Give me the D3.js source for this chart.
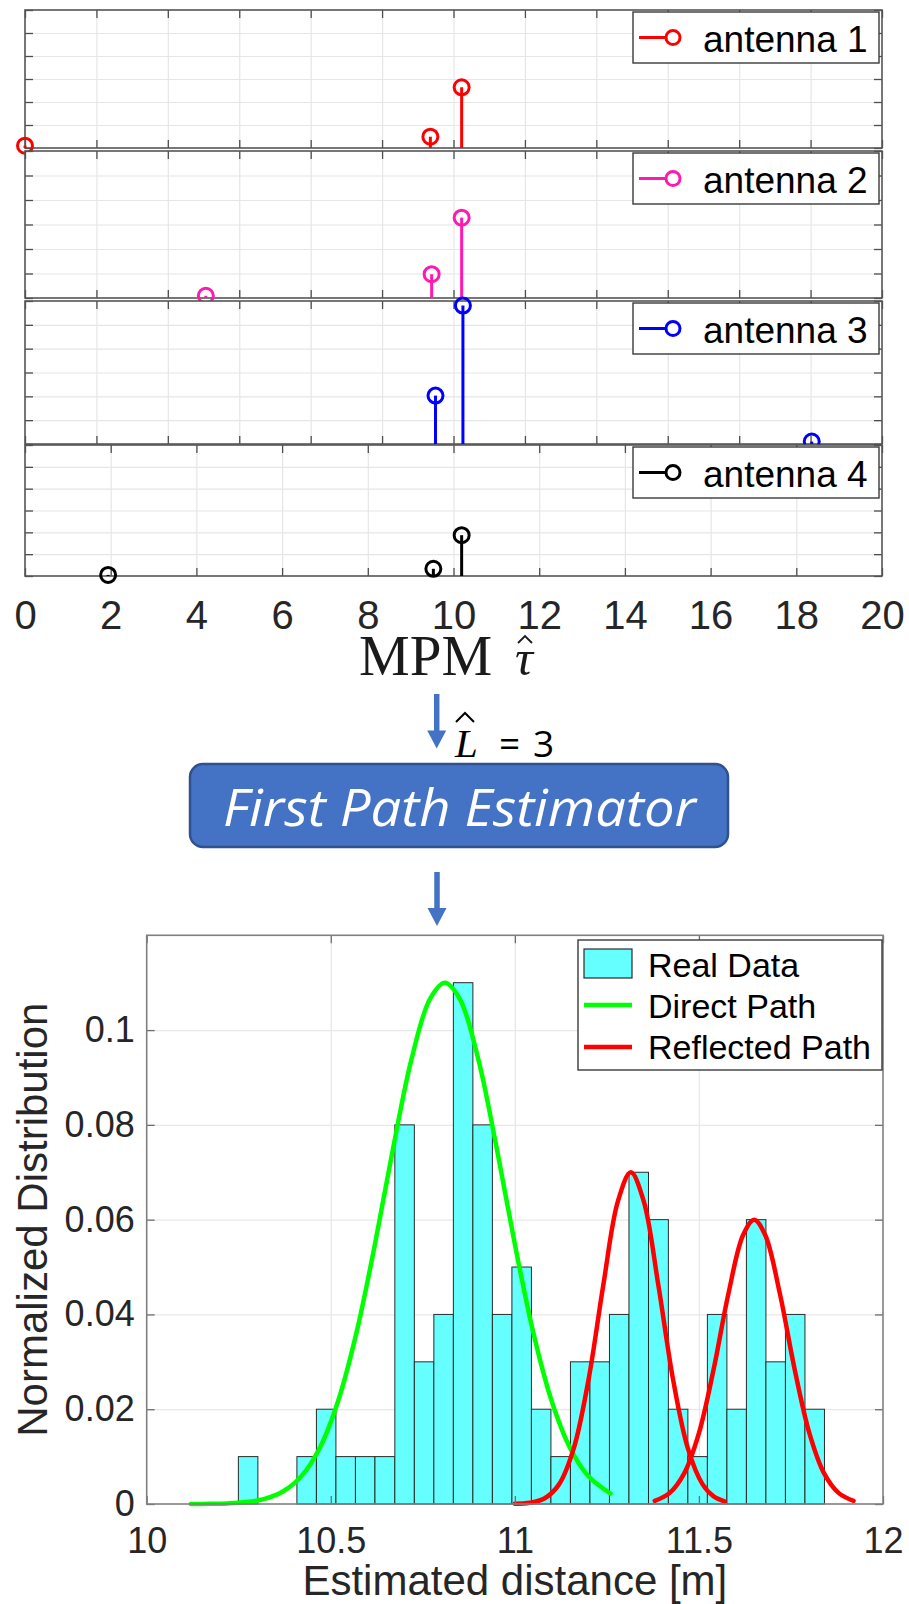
<!DOCTYPE html>
<html>
<head>
<meta charset="utf-8">
<script src="https://cdn.jsdelivr.net/npm/d3@7"></script>
<style>
  body { margin: 0; background: #fff; }
  svg { display: block; }
</style>
</head>
<body>
<script>
// ---------- MPM delay estimates, one stem panel per antenna ----------
const antennaLabels = ["antenna 1", "antenna 2", "antenna 3", "antenna 4"];
const tauAnt1 = [0.0, 9.46, 10.19];
const ampAnt1 = [0.10, 0.49, 2.64];
const tauAnt2 = [4.22, 9.49, 10.19];
const ampAnt2 = [0.09, 0.97, 3.28];
const tauAnt3 = [9.58, 10.22, 18.36];
const ampAnt3 = [2.03, 5.81, 0.10];
const tauAnt4 = [1.94, 9.53, 10.19];
const ampAnt4 = [0.05, 0.33, 1.87];

const tauTicks = [0, 2, 4, 6, 8, 10, 12, 14, 16, 18, 20];
const tauTickLabels = ["0", "2", "4", "6", "8", "10", "12", "14", "16", "18", "20"];
const tauGridUpper = [0, 1.667, 3.333, 5, 6.667, 8.333, 10, 11.667, 13.333, 15, 16.667, 18.333, 20];
const ampGrid = [0, 1, 2, 3, 4, 5, 6];

// ---------- first path estimator output: histogram and fitted paths ----------
const binEdges = [10.249, 10.302, 10.355, 10.408, 10.461, 10.514, 10.567, 10.620, 10.674, 10.727,
                  10.780, 10.833, 10.886, 10.939, 10.992, 11.045, 11.098, 11.151, 11.204, 11.257,
                  11.310, 11.363, 11.417, 11.470, 11.523, 11.576, 11.629, 11.682, 11.735, 11.788, 11.841];
const binHeights = [0.01, 0, 0, 0.01, 0.02, 0.01, 0.01, 0.01, 0.08, 0.03,
                    0.04, 0.11, 0.08, 0.04, 0.05, 0.02, 0.01, 0.03, 0.03, 0.04,
                    0.07, 0.06, 0.02, 0.01, 0.04, 0.02, 0.06, 0.03, 0.04, 0.02];

const directX = [10.12, 10.17, 10.22, 10.27, 10.32, 10.37, 10.42, 10.47, 10.52, 10.57, 10.62, 10.67,
                 10.72, 10.77, 10.81, 10.85, 10.90, 10.95, 11.00, 11.05, 11.10, 11.15, 11.20, 11.26];
const directY = [0.0000, 0.00004, 0.00013, 0.0004, 0.00107, 0.00263, 0.00585, 0.01183, 0.02173, 0.03621, 0.05482, 0.07537,
                 0.09409, 0.10666, 0.110, 0.10666, 0.09409, 0.07537, 0.05482, 0.03621, 0.02173, 0.01183, 0.00585, 0.00221];

const reflect1X = [11.00, 11.04, 11.08, 11.12, 11.16, 11.20, 11.24, 11.28, 11.315, 11.35, 11.39, 11.43, 11.47, 11.51, 11.54, 11.57];
const reflect1Y = [0.00004, 0.00025, 0.00115, 0.00414, 0.01173, 0.02618, 0.04607, 0.0639, 0.070, 0.0639, 0.04607, 0.02618, 0.01173, 0.00414, 0.00162, 0.00056];

const reflect2X = [11.38, 11.42, 11.46, 11.50, 11.54, 11.58, 11.62, 11.65, 11.68, 11.72, 11.76, 11.80, 11.84, 11.88, 11.92];
const reflect2Y = [0.00067, 0.00229, 0.00646, 0.01496, 0.02843, 0.04434, 0.05675, 0.060, 0.05675, 0.04434, 0.02843, 0.01496, 0.00646, 0.00229, 0.00067];

const distTicks = [10, 10.5, 11, 11.5, 12];
const distTickLabels = ["10", "10.5", "11", "11.5", "12"];
const probTicks = [0, 0.02, 0.04, 0.06, 0.08, 0.1];
const probTickLabels = ["0", "0.02", "0.04", "0.06", "0.08", "0.1"];
const legendLabels = ["Real Data", "Direct Path", "Reflected Path"];

// ---------- drawing ----------
const SANS = "'Liberation Sans', Arial, Helvetica, sans-serif";
const BLUE_BOX = "#4472c4";

const svg = d3.select("body").append("svg")
  .attr("width", 909).attr("height", 1604)
  .style("font-family", SANS);

svg.append("rect").attr("width", 909).attr("height", 1604).attr("fill", "#fff");

const stemColors = ["#ff0000", "#ff19b0", "#0000ff", "#000000"];
const stemTaus = [tauAnt1, tauAnt2, tauAnt3, tauAnt4];
const stemAmps = [ampAnt1, ampAnt2, ampAnt3, ampAnt4];
const panelBox = [[10, 148], [151, 298], [301, 444], [445, 576]];

const xTau = d3.scaleLinear().domain([0, 20]).range([25, 882]);

function styleGrid(sel) {
  sel.select(".domain").remove();
  sel.selectAll(".tick line").attr("stroke", "#e6e6e6").attr("stroke-width", 1.2);
}
function styleTicks(sel, color) {
  sel.select(".domain").remove();
  sel.selectAll(".tick line").attr("stroke", color).attr("stroke-width", 1.3);
}

panelBox.forEach(([top, bottom], p) => {
  const g = svg.append("g");
  const yAmp = d3.scaleLinear().domain([0, 6]).range([bottom, top]);
  const gridX = p < 3 ? tauGridUpper : tauTicks;
  const h = bottom - top;

  g.append("rect").attr("x", 25).attr("y", top).attr("width", 857).attr("height", h).attr("fill", "#fff");

  // grid
  g.append("g").attr("transform", `translate(0,${bottom})`)
    .call(d3.axisBottom(xTau).tickValues(gridX.slice(1, -1)).tickSize(-h).tickFormat(""))
    .call(styleGrid);
  g.append("g").attr("transform", `translate(25,0)`)
    .call(d3.axisLeft(yAmp).tickValues(ampGrid.slice(1, -1)).tickSize(-857).tickFormat(""))
    .call(styleGrid);

  // inward ticks on all four sides
  const tc = "#4d4d4d";
  g.append("g").attr("transform", `translate(0,${bottom})`)
    .call(d3.axisBottom(xTau).tickValues(gridX).tickSize(-8).tickFormat("")).call(styleTicks, tc);
  g.append("g").attr("transform", `translate(0,${top})`)
    .call(d3.axisTop(xTau).tickValues(gridX).tickSize(-8).tickFormat("")).call(styleTicks, tc);
  g.append("g").attr("transform", `translate(25,0)`)
    .call(d3.axisLeft(yAmp).tickValues(ampGrid).tickSize(-8).tickFormat("")).call(styleTicks, tc);
  g.append("g").attr("transform", `translate(882,0)`)
    .call(d3.axisRight(yAmp).tickValues(ampGrid).tickSize(-8).tickFormat("")).call(styleTicks, tc);

  g.append("rect").attr("x", 25).attr("y", top).attr("width", 857).attr("height", h)
    .attr("fill", "none").attr("stroke", "#555").attr("stroke-width", 1.6);

  // stems
  const col = stemColors[p];
  const pts = stemTaus[p].map((t, i) => ({ t, a: stemAmps[p][i] }));
  g.selectAll(".stem").data(pts).join("line")
    .attr("x1", d => xTau(d.t)).attr("x2", d => xTau(d.t))
    .attr("y1", yAmp(0)).attr("y2", d => yAmp(d.a))
    .attr("stroke", col).attr("stroke-width", 3);
  g.selectAll(".mark").data(pts).join("circle")
    .attr("cx", d => xTau(d.t)).attr("cy", d => yAmp(d.a)).attr("r", 7.5)
    .attr("fill", "none").attr("stroke", col).attr("stroke-width", 3);

  // legend
  const lg = g.append("g").attr("transform", `translate(633,${top + 2})`);
  lg.append("rect").attr("width", 246).attr("height", 51)
    .attr("fill", "#fff").attr("stroke", "#3a3a3a").attr("stroke-width", 1.4);
  lg.append("line").attr("x1", 6).attr("x2", 48).attr("y1", 25.5).attr("y2", 25.5)
    .attr("stroke", col).attr("stroke-width", 3);
  lg.append("circle").attr("cx", 40).attr("cy", 25.5).attr("r", 7)
    .attr("fill", "#fff").attr("stroke", col).attr("stroke-width", 3);
  lg.append("text").attr("x", 70).attr("y", 40).attr("font-size", 37).attr("fill", "#000")
    .text(antennaLabels[p]);

  if (p === 3) {
    g.append("g").attr("transform", `translate(0,${bottom})`)
      .call(d3.axisBottom(xTau).tickValues(tauTicks).tickSize(0).tickPadding(25)
        .tickFormat((d, i) => tauTickLabels[i]))
      .call(sel => {
        sel.select(".domain").remove();
        sel.selectAll(".tick line").remove();
        sel.selectAll("text").attr("font-size", 40).attr("fill", "#262626")
          .attr("font-family", SANS);
      });
  }
});

// x label of the stem panels: MPM tau-hat
svg.append("text").attr("x", 359).attr("y", 675)
  .attr("font-family", "'Liberation Serif', 'Times New Roman', serif")
  .attr("font-size", 57).attr("fill", "#1a1a1a").text("MPM");
svg.append("text").attr("x", 515).attr("y", 675)
  .attr("font-family", "'Liberation Serif', 'Times New Roman', serif")
  .attr("font-style", "italic")
  .attr("font-size", 50).attr("fill", "#1a1a1a").text("τ");
svg.append("path").attr("d", "M518,643 L525,636 L532,643")
  .attr("fill", "none").attr("stroke", "#1a1a1a").attr("stroke-width", 1.8);

// flow arrows
function downArrow(x, y0, y1) {
  const headH = 18, headW = 19, shaft = 5.5;
  svg.append("rect").attr("x", x - shaft / 2).attr("y", y0).attr("width", shaft)
    .attr("height", y1 - headH - y0 + 1).attr("fill", BLUE_BOX);
  svg.append("path")
    .attr("d", `M${x - headW / 2},${y1 - headH} L${x + headW / 2},${y1 - headH} L${x},${y1} Z`)
    .attr("fill", BLUE_BOX);
}
downArrow(436.7, 694, 748.5);
downArrow(437, 872, 926);

// L-hat = 3
svg.append("text").attr("x", 455).attr("y", 757)
  .attr("font-family", "'Liberation Serif', 'Times New Roman', serif")
  .attr("font-style", "italic").attr("font-size", 41).attr("fill", "#000").text("L");
svg.append("path").attr("d", "M456,722 L465,713 L474,722")
  .attr("fill", "none").attr("stroke", "#000").attr("stroke-width", 2);
svg.append("text").attr("x", 499).attr("y", 757)
  .attr("font-family", "'Open Sans', sans-serif").attr("font-size", 37).attr("fill", "#000").text("=");
svg.append("text").attr("x", 533).attr("y", 757)
  .attr("font-family", "'Open Sans', sans-serif").attr("font-size", 37).attr("fill", "#000").text("3");

// estimator block
svg.append("rect").attr("x", 190).attr("y", 764).attr("width", 538).attr("height", 83)
  .attr("rx", 13).attr("fill", BLUE_BOX).attr("stroke", "#2f528f").attr("stroke-width", 2.5);
svg.append("text").attr("x", 223).attr("y", 826)
  .attr("font-family", "'Open Sans', sans-serif").attr("font-style", "italic")
  .attr("font-size", 52).attr("fill", "#fff")
  .attr("textLength", 473).attr("lengthAdjust", "spacingAndGlyphs")
  .text("First Path Estimator");

// ---------- histogram chart ----------
const L = 146.7, R = 883, T = 935.3, B = 1504;
const xD = d3.scaleLinear().domain([10, 12]).range([L, R]);
const yP = d3.scaleLinear().domain([0, 0.12]).range([B, T]);
const hg = svg.append("g");

hg.append("g").attr("transform", `translate(0,${B})`)
  .call(d3.axisBottom(xD).tickValues(distTicks.slice(1, -1)).tickSize(-(B - T)).tickFormat(""))
  .call(sel => { sel.select(".domain").remove(); sel.selectAll(".tick line").attr("stroke", "#e8e8e8").attr("stroke-width", 1.3); });
hg.append("g").attr("transform", `translate(${L},0)`)
  .call(d3.axisLeft(yP).tickValues(probTicks.slice(1)).tickSize(-(R - L)).tickFormat(""))
  .call(sel => { sel.select(".domain").remove(); sel.selectAll(".tick line").attr("stroke", "#e8e8e8").attr("stroke-width", 1.3); });

// bars
const bins = binHeights.map((v, i) => ({ x0: binEdges[i], x1: binEdges[i + 1], v }));
hg.selectAll(".bar").data(bins).join("rect")
  .attr("x", d => xD(d.x0)).attr("width", d => xD(d.x1) - xD(d.x0))
  .attr("y", d => yP(d.v)).attr("height", d => yP(0) - yP(d.v))
  .attr("fill", "#66ffff").attr("stroke", "#2b2b2b").attr("stroke-width", 1);

// fitted path curves
const curve = d3.line().x(d => xD(d[0])).y(d => yP(d[1])).curve(d3.curveCatmullRom.alpha(0.5));
hg.append("path").attr("d", curve(directX.map((x, i) => [x, directY[i]])))
  .attr("fill", "none").attr("stroke", "#00ff00").attr("stroke-width", 4.5).attr("stroke-linecap", "round");
hg.append("path").attr("d", curve(reflect1X.map((x, i) => [x, reflect1Y[i]])))
  .attr("fill", "none").attr("stroke", "#ff0000").attr("stroke-width", 4.5).attr("stroke-linecap", "round");
hg.append("path").attr("d", curve(reflect2X.map((x, i) => [x, reflect2Y[i]])))
  .attr("fill", "none").attr("stroke", "#ff0000").attr("stroke-width", 4.5).attr("stroke-linecap", "round");

// inward ticks and frame
const fc = "#6e6e6e";
hg.append("g").attr("transform", `translate(0,${B})`)
  .call(d3.axisBottom(xD).tickValues(distTicks).tickSize(-8).tickFormat("")).call(styleTicks, fc);
hg.append("g").attr("transform", `translate(0,${T})`)
  .call(d3.axisTop(xD).tickValues(distTicks).tickSize(-8).tickFormat("")).call(styleTicks, fc);
hg.append("g").attr("transform", `translate(${L},0)`)
  .call(d3.axisLeft(yP).tickValues(probTicks).tickSize(-8).tickFormat("")).call(styleTicks, fc);
hg.append("g").attr("transform", `translate(${R},0)`)
  .call(d3.axisRight(yP).tickValues(probTicks).tickSize(-8).tickFormat("")).call(styleTicks, fc);
hg.append("rect").attr("x", L).attr("y", T).attr("width", R - L).attr("height", B - T)
  .attr("fill", "none").attr("stroke", "#808080").attr("stroke-width", 1.6);

// tick labels
hg.append("g").attr("transform", `translate(0,${B})`)
  .call(d3.axisBottom(xD).tickValues(distTicks).tickSize(0).tickPadding(23)
    .tickFormat((d, i) => distTickLabels[i]))
  .call(sel => {
    sel.select(".domain").remove();
    sel.selectAll(".tick line").remove();
    sel.selectAll("text").attr("font-size", 36).attr("fill", "#262626").attr("font-family", SANS);
  });
hg.append("g").attr("transform", `translate(${L},0)`)
  .call(d3.axisLeft(yP).tickValues(probTicks).tickSize(0).tickPadding(12)
    .tickFormat((d, i) => probTickLabels[i]))
  .call(sel => {
    sel.select(".domain").remove();
    sel.selectAll(".tick line").remove();
    sel.selectAll("text").attr("font-size", 36).attr("fill", "#262626").attr("font-family", SANS);
  });

// axis titles
hg.append("text").attr("x", (L + R) / 2).attr("y", 1595).attr("text-anchor", "middle")
  .attr("font-size", 42).attr("fill", "#262626").text("Estimated distance [m]");
hg.append("text").attr("transform", `translate(47,${(T + B) / 2}) rotate(-90)`)
  .attr("text-anchor", "middle").attr("font-size", 42).attr("fill", "#262626")
  .text("Normalized Distribution");

// legend
const leg = hg.append("g").attr("transform", "translate(578,940)");
leg.append("rect").attr("width", 304).attr("height", 130)
  .attr("fill", "#fff").attr("stroke", "#3a3a3a").attr("stroke-width", 1.4);
leg.append("rect").attr("x", 6).attr("y", 9).attr("width", 48).attr("height", 29)
  .attr("fill", "#66ffff").attr("stroke", "#2b2b2b").attr("stroke-width", 1.2);
leg.append("line").attr("x1", 6).attr("x2", 54).attr("y1", 65).attr("y2", 65)
  .attr("stroke", "#00ff00").attr("stroke-width", 4.5);
leg.append("line").attr("x1", 6).attr("x2", 54).attr("y1", 107).attr("y2", 107)
  .attr("stroke", "#ff0000").attr("stroke-width", 4.5);
leg.selectAll(".lt").data(legendLabels).join("text")
  .attr("x", 70).attr("y", (d, i) => 37 + i * 41)
  .attr("font-size", 34).attr("fill", "#000").text(d => d);
</script>
</body>
</html>
